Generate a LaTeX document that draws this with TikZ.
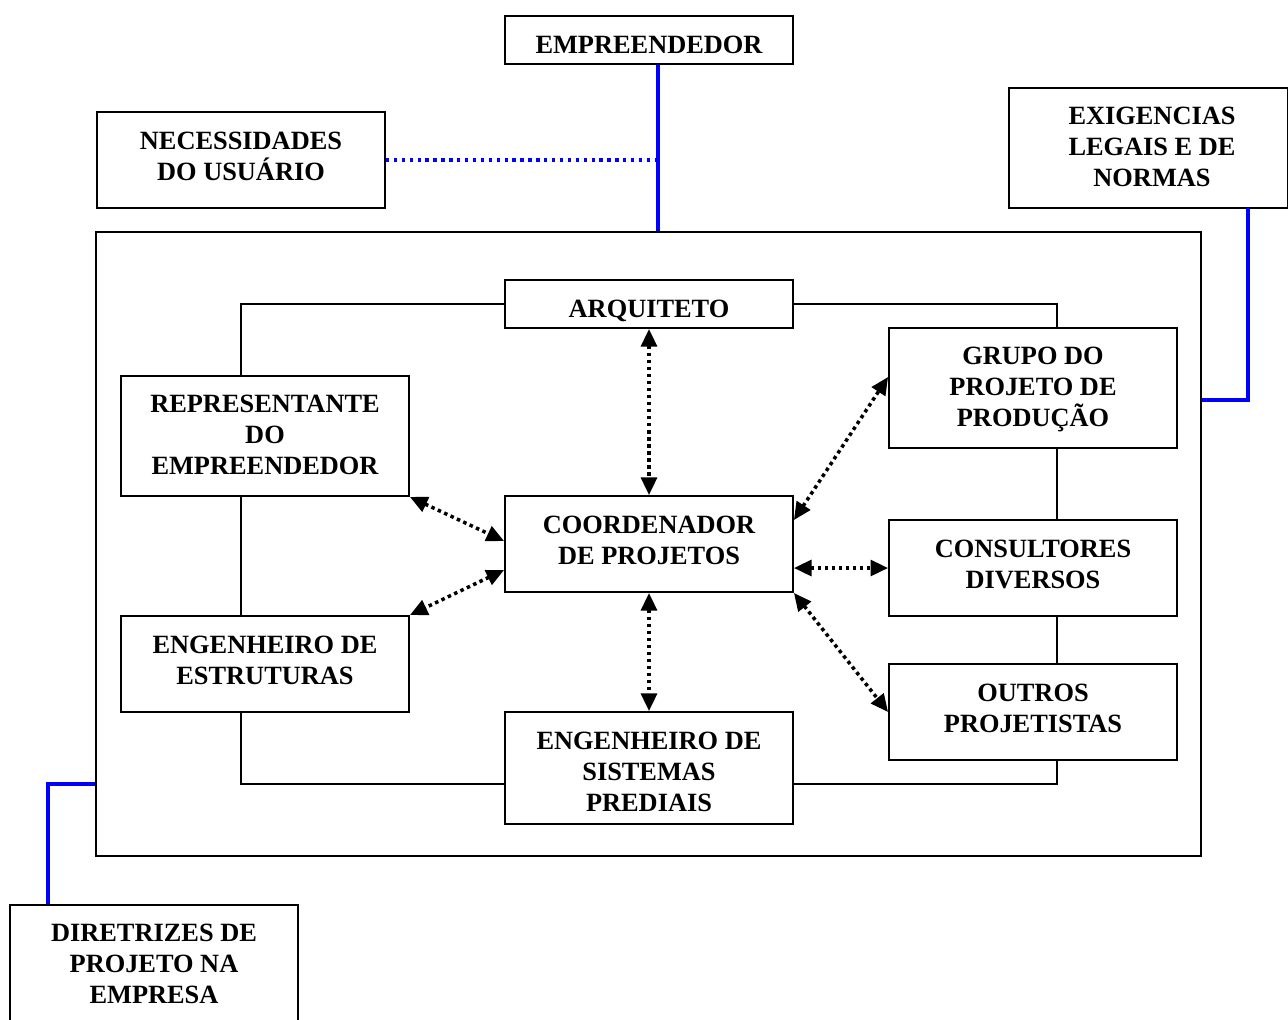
\documentclass[tikz,border=0pt]{standalone}
\usepackage{fontspec}
\setmainfont{Liberation Serif}
\usetikzlibrary{arrows.meta,calc}
\newcommand{\firstline}{\rule{0pt}{11pt}}
\begin{document}
\begin{tikzpicture}[x=0.02cm,y=-0.02cm,
  box/.style={draw=black,line width=1.1pt,fill=white,inner sep=0pt},
  txt/.style={align=center,inner sep=0pt,anchor=north,
    font=\fontsize{15}{17.6}\selectfont\bfseries},
  loop/.style={draw=black,line width=1.1pt},
  link/.style={draw=blue,line width=1.9pt},
  dotlink/.style={draw=blue,line width=1.9pt,dash pattern=on 1.9pt off 2.6pt},
  flow/.style={draw=black,line width=2pt,dash pattern=on 2pt off 2pt,
    {Triangle[length=10pt,width=9pt]}-{Triangle[length=10pt,width=9pt]}}
]
\clip (0,0) rectangle (1288,1019);
\useasboundingbox (0,0) rectangle (1288,1019);
\fill[white] (0,0) rectangle (1288,1019);

% outer frame of the design team
\node[draw=black,line width=1.1pt,minimum width=22.1cm,minimum height=12.48cm,inner sep=0pt] (outer) at (648.5,544) {};

% external boxes
\node[box,minimum width=5.76cm,minimum height=0.96cm] (emp) at (649,40) {};
\node[box,minimum width=5.76cm,minimum height=1.92cm] (nec) at (241,160) {};
\node[box,minimum width=5.58cm,minimum height=2.4cm] (exi) at (1148,148) {};
\node[box,minimum width=5.76cm,minimum height=2.4cm] (dir) at (154,965) {};

% inner boxes
\node[box,minimum width=5.76cm,minimum height=0.96cm] (arq) at (649,304) {};
\node[box,minimum width=5.76cm,minimum height=2.4cm] (rep) at (265,436) {};
\node[box,minimum width=5.76cm,minimum height=1.92cm] (coo) at (649,544) {};
\node[box,minimum width=5.76cm,minimum height=1.92cm] (est) at (265,664) {};
\node[box,minimum width=5.76cm,minimum height=2.24cm] (sis) at (649,768) {};
\node[box,minimum width=5.76cm,minimum height=2.4cm] (gru) at (1033,388) {};
\node[box,minimum width=5.76cm,minimum height=1.92cm] (con) at (1033,568) {};
\node[box,minimum width=5.76cm,minimum height=1.92cm] (out) at (1033,712) {};

% box captions, hung from the top edge of each box
\node[txt] (empt) at ($(emp.north)+(0,18.7)$) {\firstline EMPREENDEDOR};
\node[txt] (nect) at ($(nec.north)+(0,18.7)$) {\firstline NECESSIDADES\\DO USUÁRIO};
\node[txt] (exit) at ($(exi.north)+(4,18.2)$) {\firstline EXIGENCIAS\\LEGAIS E DE\\NORMAS};
\node[txt] (dirt) at ($(dir.north)+(0,17.7)$) {\firstline DIRETRIZES DE\\PROJETO NA\\EMPRESA};
\node[txt] (arqt) at ($(arq.north)+(0,18.7)$) {\firstline ARQUITETO};
\node[txt] (rept) at ($(rep.north)+(0,18.2)$) {\firstline REPRESENTANTE\\DO\\EMPREENDEDOR};
\node[txt] (coot) at ($(coo.north)+(0,18.7)$) {\firstline COORDENADOR\\DE PROJETOS};
\node[txt] (estt) at ($(est.north)+(0,18.7)$) {\firstline ENGENHEIRO DE\\ESTRUTURAS};
\node[txt] (sist) at ($(sis.north)+(0,19.2)$) {\firstline ENGENHEIRO DE\\SISTEMAS\\PREDIAIS};
\node[txt] (grut) at ($(gru.north)+(0,18.2)$) {\firstline GRUPO DO\\PROJETO DE\\PRODUÇÃO};
\node[txt] (cont) at ($(con.north)+(0,18.7)$) {\firstline CONSULTORES\\DIVERSOS};
\node[txt] (outt) at ($(out.north)+(0,18.7)$) {\firstline OUTROS\\PROJETISTAS};

% ring of solid connections
\draw[loop] (arq.west) -| ($(rep.north)+(-24,0)$);
\draw[loop] ($(rep.south)+(-24,0)$) -- ($(est.north)+(-24,0)$);
\draw[loop] ($(est.south)+(-24,0)$) |- ($(sis.west)+(0,16)$);
\draw[loop] (arq.east) -| ($(gru.north)+(24,0)$);
\draw[loop] ($(gru.south)+(24,0)$) -- ($(con.north)+(24,0)$);
\draw[loop] ($(con.south)+(24,0)$) -- ($(out.north)+(24,0)$);
\draw[loop] ($(out.south)+(24,0)$) |- ($(sis.east)+(0,16)$);

% external links
\coordinate (empfoot) at ($(emp.south)+(9,0)$);
\draw[link] (empfoot) -- (empfoot |- outer.north);
\coordinate (necend) at (655,160);
\draw[dotlink] (nec.east) -- (necend);
\coordinate (exifoot) at (1248,208);
\coordinate (exibend) at (1248,400);
\draw[link] (exifoot) -- (exibend) -- (exibend -| outer.east);
\coordinate (dirtop) at ($(dir.north)+(-106,0)$);
\coordinate (dirbend) at (48,784);
\draw[link] (dirtop) -- (dirbend) -- (dirbend -| outer.west);

% two-way exchanges with the coordinator
\draw[flow] (arq.south) -- (coo.north);
\draw[flow] (coo.south) -- (sis.north);
\draw[flow] (rep.south east) -- ($(coo.west)+(0,-3)$);
\draw[flow] ($(coo.west)+(0,26)$) -- (est.north east);
\draw[flow] ($(coo.east)+(0,-24)$) -- ($(gru.west)+(0,-11)$);
\coordinate (coocon) at ($(coo.east)+(0,24)$);
\draw[flow] (coocon) -- (con.west);
\draw[flow] (coo.south east) -- (out.west);
\end{tikzpicture}
\end{document}
